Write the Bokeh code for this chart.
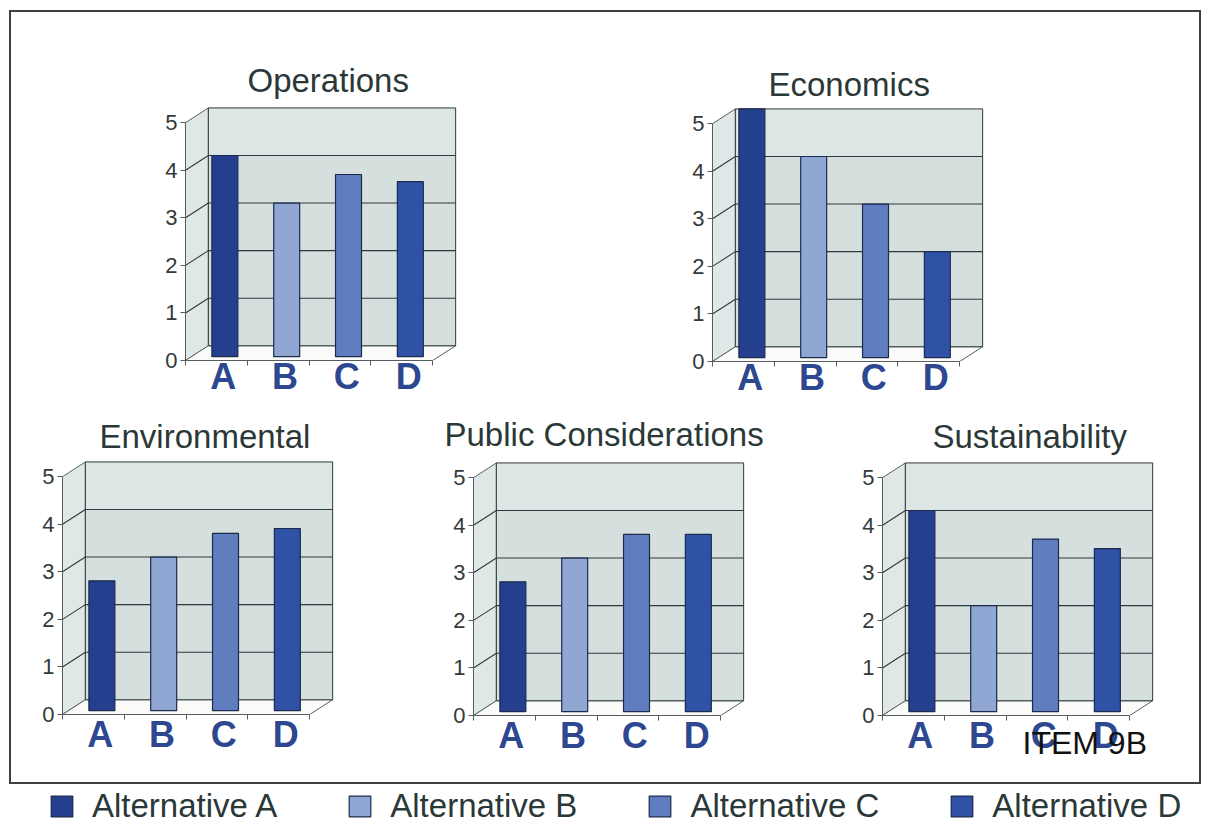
from bokeh.embed import file_html
from bokeh.layouts import column, row
from bokeh.models import FixedTicker, Legend, LegendItem, Range1d, Title
from bokeh.plotting import figure
from bokeh.resources import INLINE

# Scores per alternative for each evaluation criterion
alternatives = ["A", "B", "C", "D"]
operations = [4.0, 3.0, 3.6, 3.45]
economics = [5.0, 4.0, 3.0, 2.0]
environmental = [2.5, 3.0, 3.5, 3.6]
public_considerations = [2.5, 3.0, 3.5, 3.5]
sustainability = [4.0, 2.0, 3.4, 3.2]

value_ticks = [0, 1, 2, 3, 4, 5]
series_names = ["Alternative A", "Alternative B", "Alternative C", "Alternative D"]
series_colors = ["#233f8d", "#8fa7d2", "#5f7dbf", "#2f51a6"]

FONT = "Liberation Sans"
DEPTH_X = 0.37      # depth of the pseudo-3D box, in category units
DEPTH_Y = 0.31      # depth of the pseudo-3D box, in score units
BAR_SHIFT = 0.137   # bars stand part way into the box
BAR_BASE = 0.08
LEFT_BORDER, RIGHT_BORDER, TOP_BORDER, BOTTOM_BORDER = 40, 25, 58, 41


def panel(title, values, margin, title_offset, title_standoff, letter_standoff, bottom_border=BOTTOM_BORDER):
    n = len(values)
    p = figure(
        frame_width=272, frame_height=254,
        x_range=Range1d(0, n + DEPTH_X + 0.03), y_range=Range1d(0, 5 + DEPTH_Y + 0.03),
        output_backend="svg", toolbar_location=None, margin=margin,
        min_border_left=LEFT_BORDER, min_border_right=RIGHT_BORDER,
        min_border_top=TOP_BORDER, min_border_bottom=bottom_border,
        background_fill_alpha=0, border_fill_alpha=0, outline_line_alpha=0,
    )
    p.grid.visible = False

    # Side wall, floor and back wall of the box
    p.patch([0, DEPTH_X, DEPTH_X, 0], [0, DEPTH_Y, 5 + DEPTH_Y, 5],
            fill_color="#dfe8e6", line_color="#556060", line_width=1)
    p.patch([0, n, n + DEPTH_X, DEPTH_X], [0, 0, DEPTH_Y, DEPTH_Y],
            fill_color="#fbfcfa", line_color="#556060", line_width=1)
    p.quad(left=DEPTH_X, right=n + DEPTH_X, bottom=DEPTH_Y, top=4 + DEPTH_Y,
           fill_color="#d5dfdd", line_color=None)
    p.quad(left=DEPTH_X, right=n + DEPTH_X, bottom=4 + DEPTH_Y, top=5 + DEPTH_Y,
           fill_color="#dce6e4", line_color=None)
    p.line([DEPTH_X, n + DEPTH_X, n + DEPTH_X, DEPTH_X, DEPTH_X],
           [DEPTH_Y, DEPTH_Y, 5 + DEPTH_Y, 5 + DEPTH_Y, DEPTH_Y],
           line_color="#2f3a3a", line_width=1)

    # Gridlines across the back wall, folding down the side wall
    for tick in value_ticks[1:-1]:
        p.line([0, DEPTH_X, n + DEPTH_X], [tick, tick + DEPTH_Y, tick + DEPTH_Y],
               line_color="#2f3a3a", line_width=1.1)

    # Bars read against the back-wall gridlines
    centers = [i + 0.5 + BAR_SHIFT for i in range(n)]
    tops = [v + DEPTH_Y for v in values]
    p.vbar(x=centers, width=0.42, bottom=BAR_BASE, top=tops,
           fill_color=series_colors, line_color="#1c2a4e", line_width=1.2)

    yaxis = p.yaxis[0]
    yaxis.ticker = FixedTicker(ticks=value_ticks)
    yaxis.bounds = (0, 5)
    yaxis.major_tick_in = 0
    yaxis.major_tick_out = 5
    yaxis.minor_tick_in = 0
    yaxis.minor_tick_out = 0
    yaxis.major_label_standoff = 3
    yaxis.major_label_text_font = FONT
    yaxis.major_label_text_font_size = "22px"
    yaxis.major_label_text_color = "#333a3a"
    yaxis.axis_line_color = "#555d5d"
    yaxis.major_tick_line_color = "#555d5d"

    # Category letters sit between tick marks placed at the category edges
    label_ticks = [i + 0.61 for i in range(n)]
    xaxis = p.xaxis[0]
    xaxis.ticker = FixedTicker(ticks=label_ticks, minor_ticks=list(range(n + 1)))
    xaxis.major_label_overrides = dict(zip(label_ticks, alternatives))
    xaxis.bounds = (0, n)
    xaxis.major_tick_in = 0
    xaxis.major_tick_out = 0
    xaxis.minor_tick_in = 0
    xaxis.minor_tick_out = 5
    xaxis.major_label_standoff = letter_standoff
    xaxis.major_label_text_font = FONT
    xaxis.major_label_text_font_style = "bold"
    xaxis.major_label_text_font_size = "36px"
    xaxis.major_label_text_color = "#2d4790"
    xaxis.axis_line_color = "#555d5d"
    xaxis.minor_tick_line_color = "#555d5d"

    p.add_layout(
        Title(text=title, align="left", offset=title_offset, standoff=title_standoff,
              text_font=FONT, text_font_style="normal", text_font_size="33px",
              text_color="#2b3838"),
        "above",
    )
    return p


ops_fig = panel("Operations", operations, (36, 0, 0, 134), 62, 16, -10)
eco_fig = panel("Economics", economics, (37, 0, 0, 190), 56, 9, -10)
env_fig = panel("Environmental", environmental, (0, 0, 0, 11), 37, 11, -6)
pub_fig = panel("Public Considerations", public_considerations, (1, 0, 0, 74), -29, 17, -6)
sus_fig = panel("Sustainability", sustainability, (1, 0, 0, 72), 50, 14, -6, bottom_border=62)

# Document reference mark, set under the last panel and over its category letters
sus_fig.add_layout(
    Title(text="ITEM 9B", align="left", vertical_align="top", offset=140, standoff=-67,
          text_font=FONT, text_font_style="normal", text_font_size="32px",
          text_color="#111111"),
    "below",
)

frame_box = column(
    row(ops_fig, eco_fig),
    row(env_fig, pub_fig, sus_fig),
    width=1192, height=774, margin=(10, 0, 0, 9),
    styles={"border": "2px solid #3c4242", "box-sizing": "border-box"},
)

# Shared legend strip under the boxed charts; its swatch glyphs lie outside the visible range
legend_fig = figure(
    width=1205, height=39, x_range=Range1d(0, 1), y_range=Range1d(0, 1),
    x_axis_type=None, y_axis_type=None, output_backend="svg", toolbar_location=None,
    min_border=0, outline_line_alpha=0, margin=0,
)
legend_fig.grid.visible = False
items = []
for name, color in zip(series_names, series_colors):
    swatch = legend_fig.vbar(x=[-1], width=0.1, top=[-1], fill_color=color,
                             line_color="#1c2a4e", line_width=1.2)
    items.append(LegendItem(label=name, renderers=[swatch]))
legend = Legend(
    items=items, orientation="horizontal", location=(48, -2),
    glyph_width=27, glyph_height=26, label_standoff=17, spacing=69, padding=0, margin=0,
    background_fill_alpha=0, border_line_alpha=0,
    label_text_font=FONT, label_text_font_size="33px", label_text_color="#2b3838",
)
legend_fig.add_layout(legend, "center")

page = column(frame_box, legend_fig, margin=0)
open("out.html", "w").write(file_html(page, INLINE))
